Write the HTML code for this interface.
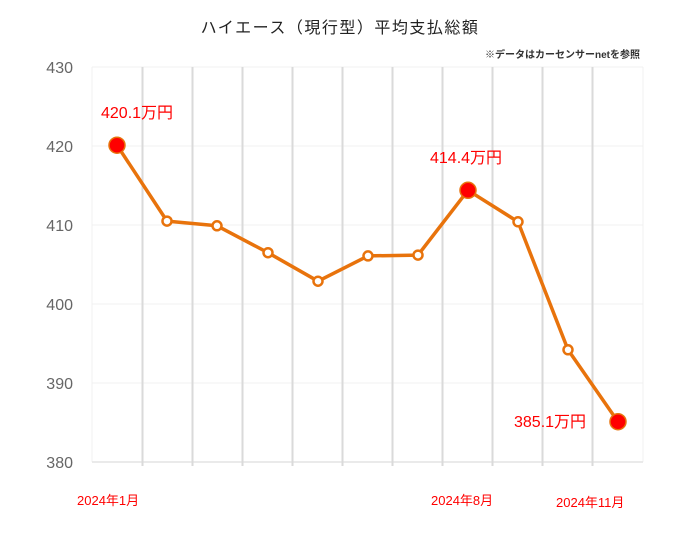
<!DOCTYPE html>
<html><head><meta charset="utf-8"><style>
body{margin:0;background:#fff;}
svg{display:block;font-family:"Liberation Sans","Noto Sans CJK JP",sans-serif;}
</style></head><body>
<svg width="680" height="539" viewBox="0 0 680 539">
<text x="340" y="33" text-anchor="middle" font-size="16" fill="#222" letter-spacing="1.5">ハイエース（現行型）平均支払総額</text>
<text x="640" y="58" text-anchor="end" font-size="10" font-weight="bold" fill="#333">※データはカーセンサーnetを参照</text>
<g stroke="#f0f0f0" stroke-width="1">
<line x1="92" y1="67" x2="643" y2="67"/><line x1="92" y1="146" x2="643" y2="146"/><line x1="92" y1="225" x2="643" y2="225"/><line x1="92" y1="304" x2="643" y2="304"/><line x1="92" y1="383" x2="643" y2="383"/>
<line x1="92" y1="67" x2="92" y2="462"/><line x1="643" y1="67" x2="643" y2="462"/>
</g>
<line x1="92" y1="462" x2="643" y2="462" stroke="#e4e4e4" stroke-width="1.5"/>
<g stroke="#dadada" stroke-width="2">
<line x1="142.5" y1="67" x2="142.5" y2="466"/><line x1="192.5" y1="67" x2="192.5" y2="466"/><line x1="242.5" y1="67" x2="242.5" y2="466"/><line x1="292.5" y1="67" x2="292.5" y2="466"/><line x1="342.5" y1="67" x2="342.5" y2="466"/><line x1="392.5" y1="67" x2="392.5" y2="466"/><line x1="442.5" y1="67" x2="442.5" y2="466"/><line x1="492.5" y1="67" x2="492.5" y2="466"/><line x1="542.5" y1="67" x2="542.5" y2="466"/><line x1="592.5" y1="67" x2="592.5" y2="466"/>
</g>
<g font-size="16" fill="#666" text-anchor="end">
<text x="73" y="73">430</text><text x="73" y="152">420</text><text x="73" y="231">410</text><text x="73" y="310">400</text><text x="73" y="389">390</text><text x="73" y="468">380</text>
</g>
<polyline fill="none" stroke="#e8730c" stroke-width="3.5" stroke-linejoin="round" points="117,145.2 167,221.1 217,225.8 268,252.7 318,281.2 368,255.9 418,255.1 468,190.3 518,221.8 568,349.8 618,421.7"/>
<g fill="#fff" stroke="#e8730c" stroke-width="2.5">
<circle cx="167" cy="221.1" r="4.5"/><circle cx="217" cy="225.8" r="4.5"/><circle cx="268" cy="252.7" r="4.5"/><circle cx="318" cy="281.2" r="4.5"/><circle cx="368" cy="255.9" r="4.5"/><circle cx="418" cy="255.1" r="4.5"/><circle cx="518" cy="221.8" r="4.5"/><circle cx="568" cy="349.8" r="4.5"/>
</g>
<g fill="#ff0000" stroke="#e8730c" stroke-width="1.5">
<circle cx="117" cy="145.2" r="8"/><circle cx="468" cy="190.3" r="8"/><circle cx="618" cy="421.7" r="8"/>
</g>
<g fill="#ff0000" font-size="16">
<text x="101" y="118">420.1万円</text><text x="430" y="163">414.4万円</text><text x="514" y="427">385.1万円</text>
</g>
<g fill="#ff0000" font-size="13">
<text x="77" y="505">2024年1月</text><text x="431" y="505">2024年8月</text><text x="556" y="507">2024年11月</text>
</g>
</svg>
</body></html>
